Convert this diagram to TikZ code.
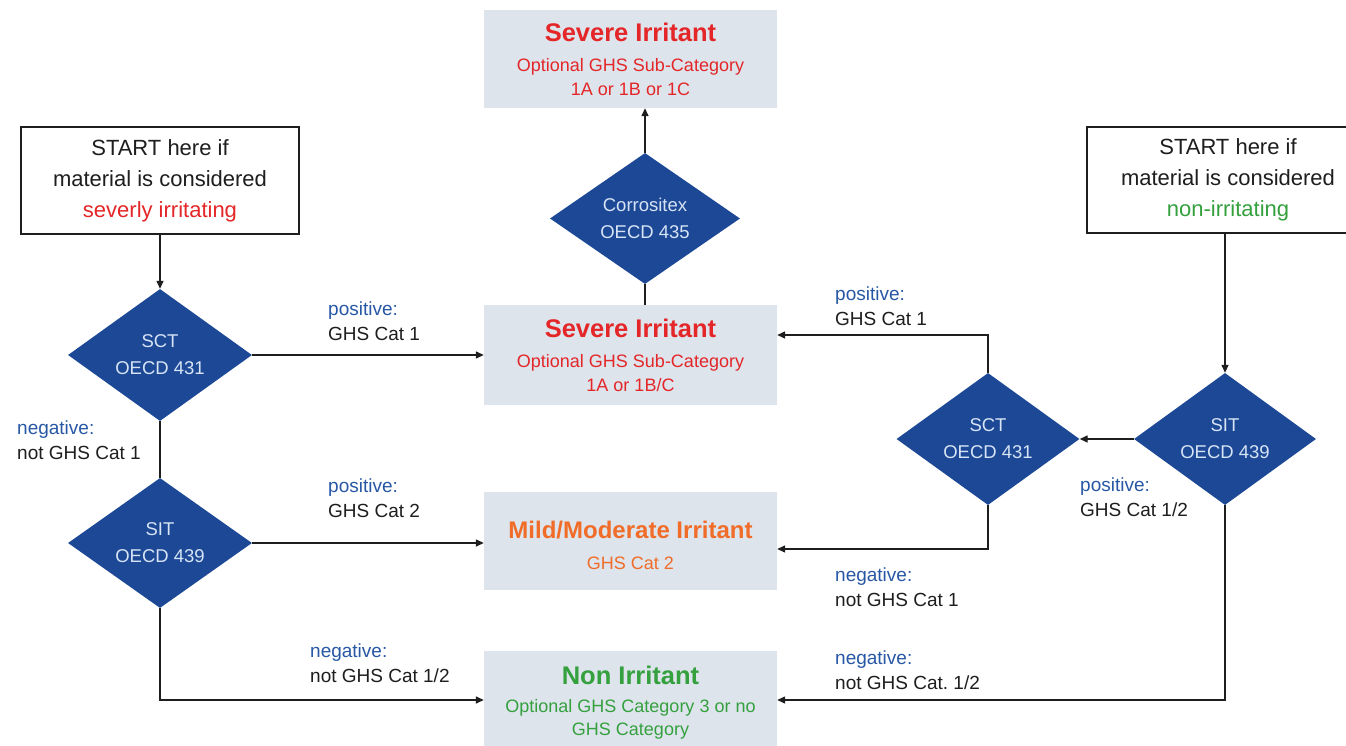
\documentclass[tikz,border=0pt]{standalone}
\usepackage{fontspec}
\setmainfont{Liberation Sans}
\usetikzlibrary{shapes.geometric,arrows.meta,positioning}
\definecolor{dia}{RGB}{28,72,150}
\definecolor{diatext}{RGB}{215,228,245}
\definecolor{boxfill}{RGB}{221,228,236}
\definecolor{redt}{RGB}{228,38,40}
\definecolor{oranget}{RGB}{240,108,40}
\definecolor{greent}{RGB}{52,160,62}
\definecolor{labblue}{RGB}{40,88,165}
\definecolor{txt}{RGB}{30,30,30}
\tikzset{
  resbox/.style={rectangle, fill=boxfill, minimum width=293pt, inner sep=0pt, align=center,
    font=\fontsize{18}{23.5}\selectfont},
  startbox/.style={rectangle, draw=txt, line width=1.3pt, fill=white, inner sep=0pt, align=center,
    text=txt, font=\fontsize{22}{31}\selectfont},
  dec/.style={diamond, fill=dia, inner sep=0pt, minimum width=184pt, minimum height=132pt,
    text=diatext, align=center, font=\fontsize{18.5}{27}\selectfont},
  lab/.style={anchor=west, inner sep=0pt, align=left, text=txt, font=\fontsize{19}{25}\selectfont},
  conn/.style={draw=txt, line width=1.4pt},
  arr/.style={conn, -{Triangle[length=8pt,width=7pt]}}
}
\newcommand{\pos}{\textcolor{labblue}{positive:}}
\newcommand{\negv}{\textcolor{labblue}{negative:}}
\newcommand{\ttl}[1]{{\fontsize{25.5}{30}\selectfont\bfseries #1}}
\begin{document}
\begin{tikzpicture}[x=1pt,y=-1pt]
\useasboundingbox (0,0) rectangle (1346,746);
\clip (0,0) rectangle (1346,746);
\fill[white] (0,0) rectangle (1346,746);

% result boxes
\node[resbox, minimum height=98pt, text=redt] (top) at (630.5,59)
  {\ttl{Severe Irritant}\\[7pt]
   Optional GHS Sub-Category\\
   1A or 1B or 1C};
\node[resbox, minimum height=100pt, text=redt] (sev) at (630.5,355)
  {\ttl{Severe Irritant}\\[7pt]
   Optional GHS Sub-Category\\
   1A or 1B/C};
\node[resbox, minimum height=98pt, text=oranget] (mild) at (630.5,541)
  {\rule{0pt}{26pt}{\fontsize{24}{30}\selectfont\bfseries Mild/Moderate Irritant}\\[7pt]
   GHS Cat 2};
\node[resbox, minimum height=96pt, text=greent] (non) at (630.5,699)
  {\rule{0pt}{26pt}\ttl{Non Irritant}\\[4pt]
   Optional GHS Category 3 or no\\
   GHS Category};

% start boxes
\node[startbox, minimum width=278pt, minimum height=107pt] (lstart) at (160,180.5)
  {START here if\\material is considered\\\textcolor{redt}{severly irritating}};
\node[startbox, minimum width=282pt, minimum height=106pt] (rstart) at (1228,180)
  {START here if\\material is considered\\\textcolor{greent}{non-irritating}};

% decisions
\node[dec, minimum width=190pt, minimum height=131pt] (corr) at (645,218.5) {Corrositex\\OECD 435};
\node[dec] (lsct) at (160,355) {SCT\\OECD 431};
\node[dec, minimum height=130pt] (lsit) at (160,543) {SIT\\OECD 439};
\node[dec, minimum width=183pt] (rsct) at (988,439) {SCT\\OECD 431};
\node[dec, minimum width=182pt] (rsit) at (1225,439) {SIT\\OECD 439};

% connectors
\draw[arr] (corr.north) -- (corr.north |- top.south);
\draw[conn] (sev.north -| corr.south) -- (corr.south);
\draw[arr] (lstart.south) -- (lsct.north);
\draw[conn] (lsct.south) -- (lsit.north);
\draw[arr] (lsct.east) -- (lsct.east -| sev.west);
\draw[arr] (lsit.east) -- (lsit.east -| mild.west);
\draw[arr] (lsit.south) |- ([yshift=-1pt]non.west);
\draw[arr] (rsit.north |- rstart.south) -- (rsit.north);
\draw[arr] (rsit.west) -- (rsct.east);
\draw[arr] (rsct.north) |- ([yshift=20pt]sev.east);
\draw[arr] (rsct.south) |- ([yshift=-8pt]mild.east);
\draw[arr] (rsit.south) |- ([yshift=-1pt]non.east);

% labels
\node[lab] (l1) at (328,321) {\pos\\GHS Cat 1};
\node[lab] (l2) at (328,498) {\pos\\GHS Cat 2};
\node[lab] (l3) at (17,440) {\negv\\not GHS Cat 1};
\node[lab] (l4) at (310,663) {\negv\\not GHS Cat 1/2};
\node[lab] (l5) at (835,306) {\pos\\GHS Cat 1};
\node[lab] (l6) at (1080,497) {\pos\\GHS Cat 1/2};
\node[lab] (l7) at (835,587) {\negv\\not GHS Cat 1};
\node[lab] (l8) at (835,670) {\negv\\not GHS Cat.\ 1/2};
\end{tikzpicture}
\end{document}
